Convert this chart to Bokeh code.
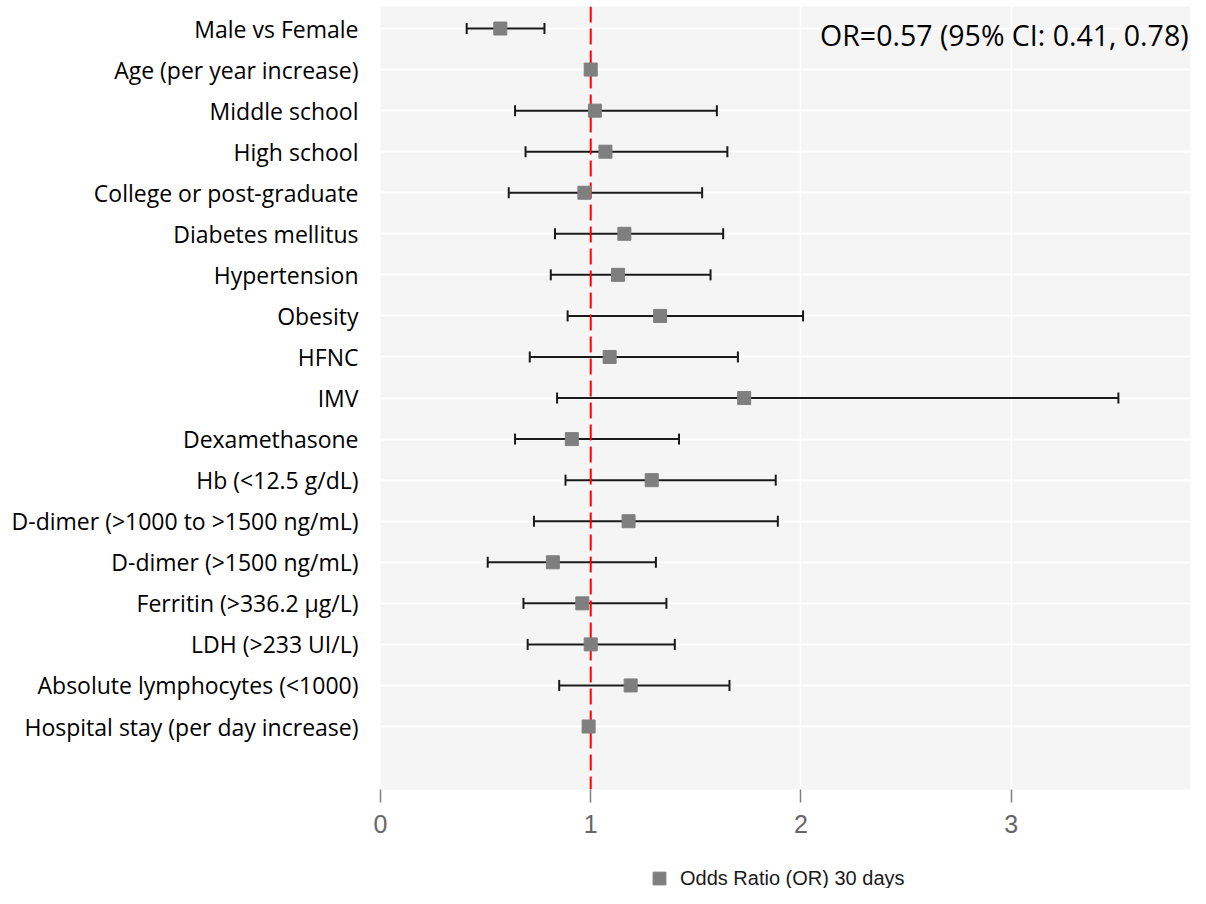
from bokeh.plotting import figure
from bokeh.layouts import column
from bokeh.models import (ColumnDataSource, Range1d, FixedTicker, Whisker, TeeHead,
                          Span, Legend, LegendItem, Label)
from bokeh.embed import file_html
from bokeh.resources import INLINE

categories = ["Male vs Female", "Age (per year increase)", "Middle school", "High school",
              "College or post-graduate", "Diabetes mellitus", "Hypertension", "Obesity",
              "HFNC", "IMV", "Dexamethasone", "Hb (<12.5 g/dL)",
              "D-dimer (>1000 to >1500 ng/mL)", "D-dimer (>1500 ng/mL)",
              "Ferritin (>336.2 µg/L)", "LDH (>233 UI/L)", "Absolute lymphocytes (<1000)",
              "Hospital stay (per day increase)"]
or_values = [0.57, 1.00, 1.02, 1.07, 0.97, 1.16, 1.13, 1.33, 1.09, 1.73, 0.91, 1.29,
             1.18, 0.82, 0.96, 1.00, 1.19, 0.99]
ci_lower = [0.41, 0.99, 0.64, 0.69, 0.61, 0.83, 0.81, 0.89, 0.71, 0.84, 0.64, 0.88,
            0.73, 0.51, 0.68, 0.70, 0.85, 0.98]
ci_upper = [0.78, 1.01, 1.60, 1.65, 1.53, 1.63, 1.57, 2.01, 1.70, 3.51, 1.42, 1.88,
            1.89, 1.31, 1.36, 1.40, 1.66, 1.00]
x_ticks = [0, 1, 2, 3]
x_tick_labels = ["0", "1", "2", "3"]
legend_label = "Odds Ratio (OR) 30 days"
note_text = "OR=0.57 (95% CI: 0.41, 0.78)"

n = len(categories)
ypos = [n - 1 - i for i in range(n)]

src = ColumnDataSource(dict(y=ypos, orv=or_values, lo=ci_lower, hi=ci_upper))

MARKER = dict(marker="square", size=13, fill_color="#7f7f7f", line_color="#7f7f7f")

p = figure(width=1190, height=849, output_backend="svg", toolbar_location=None,
           x_range=Range1d(0, 3.853), y_range=Range1d(-1.534, 17.536),
           min_border_left=380, min_border_right=0, min_border_top=6, min_border_bottom=60)
p.outline_line_color = None
p.background_fill_color = "#f5f5f5"
p.border_fill_color = "white"

# grids
p.xgrid.ticker = FixedTicker(ticks=x_ticks)
p.ygrid.ticker = FixedTicker(ticks=ypos)
p.xgrid.grid_line_color = "white"
p.xgrid.grid_line_width = 1.5
p.ygrid.grid_line_color = "white"
p.ygrid.grid_line_width = 2

# x axis
p.xaxis.ticker = FixedTicker(ticks=x_ticks)
p.xaxis.major_label_overrides = {t: l for t, l in zip(x_ticks, x_tick_labels)}
p.xaxis.axis_line_color = None
p.xaxis.major_tick_in = 0
p.xaxis.major_tick_out = 13
p.xaxis.major_tick_line_color = "#7f7f7f"
p.xaxis.major_tick_line_width = 1.5
p.xaxis.minor_tick_line_color = None
p.xaxis.major_label_text_font = "Liberation Sans"
p.xaxis.major_label_text_font_size = "25px"
p.xaxis.major_label_text_color = "#666666"
p.xaxis.major_label_standoff = 12

# y axis
p.yaxis.ticker = FixedTicker(ticks=ypos)
p.yaxis.major_label_overrides = {y: c for y, c in zip(ypos, categories)}
p.yaxis.axis_line_color = None
p.yaxis.major_tick_line_color = None
p.yaxis.minor_tick_line_color = None
p.yaxis.major_tick_in = 0
p.yaxis.major_tick_out = 0
p.yaxis.major_label_text_font = "Open Sans"
p.yaxis.major_label_text_font_size = "23px"
p.yaxis.major_label_text_color = "black"
p.yaxis.major_label_standoff = 22

# error bars
wh = Whisker(source=src, base="y", lower="lo", upper="hi", dimension="width",
             line_color="#1a1a1a", line_width=2, level="underlay",
             lower_head=TeeHead(size=11, line_color="#1a1a1a", line_width=2),
             upper_head=TeeHead(size=11, line_color="#1a1a1a", line_width=2))
p.add_layout(wh)

# reference line
ref = Span(location=1, dimension="height", line_color="red", line_width=2,
           line_dash="16 6", level="underlay")
p.add_layout(ref)

# points
pts = p.scatter(x="orv", y="y", source=src, **MARKER)

# annotation
p.add_layout(Label(x=3.844, y=16.83, text=note_text, text_align="right",
                   text_baseline="middle", text_font="Open Sans", text_font_size="28.5px",
                   text_color="black"))

# legend strip below the chart (its scatter shares the data but lies outside its view)
lg = figure(width=1190, height=39, output_backend="svg", toolbar_location=None,
            x_range=Range1d(0, 1), y_range=Range1d(100, 101),
            min_border_left=380, min_border_right=0, min_border_top=0, min_border_bottom=0)
lg.axis.visible = False
lg.grid.visible = False
lg.outline_line_color = None
lg.background_fill_color = "white"
lg.border_fill_color = "white"
key = lg.scatter(x="orv", y="y", source=src, **MARKER)
legend = Legend(items=[LegendItem(label=legend_label, renderers=[key])],
                location=(263, -6), glyph_width=32, glyph_height=32,
                padding=0, margin=0, spacing=0, label_standoff=5,
                border_line_color=None, background_fill_alpha=0,
                label_text_font="Liberation Sans", label_text_font_size="20px",
                label_text_color="#1a1a1a")
lg.add_layout(legend, "center")

layout = column(p, lg, spacing=0)
open("out.html", "w").write(file_html(layout, INLINE))
